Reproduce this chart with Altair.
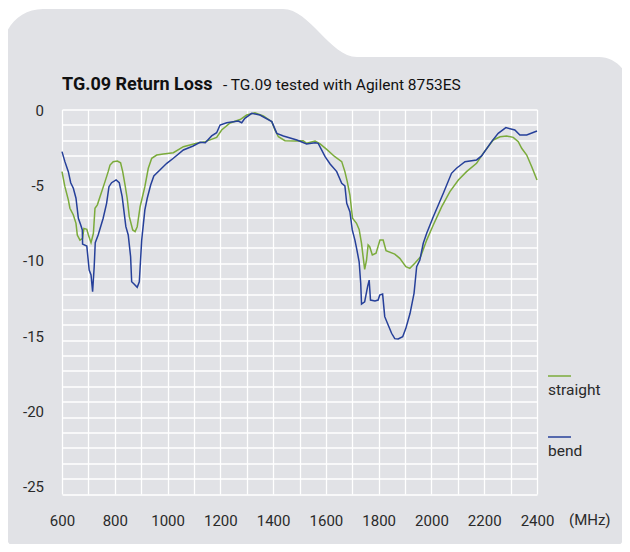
import altair as alt
import pandas as pd

# ---------------- data ----------------
straight_freq = [600, 611, 624, 630, 643, 653, 658, 668, 678, 683, 694, 700, 710, 719, 725, 734, 744,
                 763, 775, 782, 794, 810, 822, 830, 839, 847, 855, 868, 877, 885, 896, 914, 927, 940,
                 959, 984, 1022, 1060, 1110, 1143, 1186, 1205, 1237, 1275, 1300, 1331, 1363, 1395,
                 1407, 1420, 1445, 1483, 1514, 1527, 1559, 1578, 1603, 1634, 1660, 1672, 1681, 1691,
                 1701, 1716, 1726, 1735, 1741, 1747, 1754, 1760, 1766, 1776, 1790, 1805, 1817, 1828,
                 1861, 1880, 1903, 1918, 1937, 1959, 1982, 2007, 2039, 2070, 2102, 2133, 2171, 2196,
                 2234, 2260, 2285, 2310, 2329, 2342, 2361, 2380, 2400]
straight_db = [-4.04, -5.02, -5.88, -6.42, -6.86, -7.40, -8.16, -8.49, -8.38, -7.73, -7.79, -8.16,
               -8.66, -8.05, -6.42, -6.20, -5.67, -4.69, -4.04, -3.61, -3.39, -3.35, -3.46, -4.04,
               -4.91, -5.77, -6.97, -7.83, -7.94, -7.62, -6.32, -5.02, -3.82, -3.17, -2.96, -2.89,
               -2.81, -2.42, -2.20, -2.09, -1.81, -1.33, -0.88, -0.65, -0.36, -0.21, -0.42, -0.79,
               -1.33, -1.77, -2.03, -2.05, -2.03, -2.20, -2.05, -2.24, -2.59, -3.07, -3.39, -4.04,
               -4.69, -5.56, -7.07, -7.40, -7.80, -8.70, -9.57, -10.39, -9.79, -8.81, -8.92, -9.46,
               -9.35, -8.49, -8.49, -9.18, -9.40, -9.68, -10.22, -10.33, -10.00, -9.57, -8.49, -7.51,
               -6.32, -5.34, -4.58, -4.04, -3.50, -2.85, -1.98, -1.77, -1.72, -1.81, -2.09, -2.52,
               -2.96, -3.72, -4.58]

bend_freq = [600, 611, 624, 633, 643, 653, 662, 671, 677, 678, 694, 703, 710, 716, 722, 726, 737, 756,
             769, 778, 788, 805, 817, 828, 842, 851, 860, 864, 873, 885, 893, 902, 914, 923, 936, 948,
             971, 997, 1022, 1060, 1097, 1123, 1143, 1167, 1186, 1199, 1224, 1268, 1281, 1293, 1319,
             1350, 1395, 1414, 1439, 1490, 1527, 1559, 1571, 1597, 1616, 1641, 1660, 1672, 1679, 1691,
             1700, 1710, 1716, 1726, 1732, 1735, 1747, 1758, 1764, 1769, 1786, 1798, 1804, 1815, 1823,
             1836, 1849, 1861, 1874, 1891, 1903, 1919, 1934, 1944, 1956, 1969, 1982, 2007, 2045, 2076,
             2095, 2127, 2171, 2190, 2228, 2253, 2282, 2316, 2335, 2361, 2400]
bend_db = [-2.74, -3.39, -4.04, -4.76, -5.12, -5.77, -7.07, -7.51, -7.83, -8.75, -8.88, -10.44,
           -10.76, -11.85, -10.22, -8.66, -8.16, -7.07, -6.10, -5.02, -4.76, -4.58, -4.76, -5.67,
           -7.62, -8.16, -9.57, -11.20, -11.35, -11.56, -11.20, -8.49, -6.53, -5.77, -4.91, -4.32,
           -3.93, -3.50, -3.17, -2.63, -2.37, -2.13, -2.16, -1.72, -1.51, -1.01, -0.86, -0.75,
           -0.86, -0.57, -0.25, -0.36, -0.79, -1.55, -1.72, -1.98, -2.24, -2.16, -2.20, -3.07,
           -3.54, -4.04, -4.80, -4.97, -6.10, -6.64, -7.83, -8.49, -9.00, -9.90, -11.30, -12.65,
           -12.50, -11.52, -11.09, -12.39, -12.45, -12.39, -12.06, -12.00, -13.47, -14.01, -14.55,
           -14.90, -14.92, -14.77, -14.23, -13.25, -11.95, -10.22, -9.79, -8.70, -8.05, -6.97,
           -5.45, -4.15, -3.82, -3.39, -3.28, -3.02, -2.09, -1.55, -1.18, -1.33, -1.66, -1.66, -1.40]

series_names = ["straight", "bend"]
series_colors = ["#7bab3b", "#26409a"]
x_ticks = list(range(600, 2401, 100))
y_ticks = list(range(-25, 1))
y_label_values = [0, -5, -10, -15, -20, -25]
title_main = "TG.09 Return Loss"
title_sub = "- TG.09 tested with Agilent 8753ES"
unit_label = "(MHz)"

df = pd.concat([
    pd.DataFrame({"freq": straight_freq, "db": straight_db, "series": "straight"}),
    pd.DataFrame({"freq": bend_freq, "db": bend_db, "series": "bend"}),
], ignore_index=True)
ylab_df = pd.DataFrame({"v": y_label_values, "t": [str(v) for v in y_label_values]})

# ---------------- layout ----------------
W, H = 475, 384.5
OX, OY = 62, 109.5          # plot origin on the page
FONT = "Roboto"
TXT = "#2a2a2a"
BG = "#e1e2e6"

x_enc = alt.X(
    "freq:Q",
    scale=alt.Scale(domain=[600, 2400], nice=False, zero=False),
    axis=alt.Axis(values=x_ticks, labelExpr="datum.value % 200 == 0 ? datum.value + '' : ''",
                  title=None, grid=True, gridColor="white", gridWidth=1.3, gridOpacity=1,
                  ticks=False, tickSize=0, domain=False, labelPadding=19, labelFontSize=15,
                  labelFont=FONT, labelColor=TXT, labelFlush=False, labelOverlap=False),
)
y_enc = alt.Y(
    "db:Q",
    scale=alt.Scale(domain=[-25, 0], nice=False, zero=False),
    axis=alt.Axis(values=y_ticks, labels=False, title=None, grid=True, gridColor="white",
                  gridWidth=1.3, gridOpacity=1, ticks=False, tickSize=0, domain=False),
)
color_enc = alt.Color("series:N", scale=alt.Scale(domain=series_names, range=series_colors),
                      legend=None)

lines = alt.Chart(df).mark_line(strokeWidth=1.5).encode(x=x_enc, y=y_enc, color=color_enc,
                                                        detail="series:N")

# y tick labels: in the reference they sit on a slightly tighter scale than the grid
ylabels = alt.Chart(ylab_df).mark_text(align="right", baseline="middle", font=FONT, fontSize=15,
                                       color=TXT).encode(
    x=alt.value(-18),
    y=alt.Y("v:Q", scale=alt.Scale(domain=[-25, 0], range=[487 - OY, 111 - OY], nice=False,
                                   zero=False), axis=None),
    text="t:N",
)

one = alt.Data(values=[{"k": 0}])


def P(x, y):
    return f"{x - OX:.1f},{y - OY:.1f}"


# white cut-out around the grey card (outer rect clockwise, card counter-clockwise)
outer = f"M {P(-30,-30)} L {P(670,-30)} L {P(670,620)} L {P(-30,620)} Z"
card = ("M " + P(3, 50) + " L " + P(3, 525) +
        " C " + P(3, 542) + " " + P(16, 555) + " " + P(33, 555) +
        " L " + P(596, 555) +
        " C " + P(614, 555) + " " + P(629, 540) + " " + P(629, 522) +
        " L " + P(629, 87) +
        " C " + P(629, 71) + " " + P(615, 57) + " " + P(599, 57) +
        " L " + P(357, 57) +
        " C " + P(330, 57) + " " + P(310, 9) + " " + P(283, 9) +
        " L " + P(43, 9) +
        " C " + P(20, 9) + " " + P(3, 27) + " " + P(3, 50) + " Z")
cutout = alt.Chart(one).mark_point(shape=outer + " " + card, size=4, filled=True, opacity=1,
                                   strokeWidth=0, color="white").encode(
    x=alt.value(0), y=alt.value(0))

title1 = alt.Chart(one).mark_text(text=title_main, align="left", baseline="alphabetic", font=FONT,
                                  fontSize=18, fontWeight="bold", color="#111").encode(
    x=alt.value(0), y=alt.value(90 - OY))
title2 = alt.Chart(one).mark_text(text=title_sub, align="left", baseline="alphabetic", font=FONT,
                                  fontSize=15.5, color="#111").encode(
    x=alt.value(223 - OX), y=alt.value(90 - OY))
unit = alt.Chart(one).mark_text(text=unit_label, align="left", baseline="alphabetic", font=FONT,
                                fontSize=15, color=TXT).encode(
    x=alt.value(569 - OX), y=alt.value(525 - OY))

legend_layers = []
legend_line_y = [376, 437]
for name, col, ly in zip(series_names, series_colors, legend_line_y):
    legend_layers.append(alt.Chart(one).mark_rule(color=col, strokeWidth=1.5).encode(
        x=alt.value(548 - OX), x2=alt.value(571 - OX), y=alt.value(ly - OY)))
    legend_layers.append(alt.Chart(one).mark_text(text=name, align="left", baseline="alphabetic",
                                                  font=FONT, fontSize=15.5, color=TXT).encode(
        x=alt.value(548 - OX), y=alt.value(ly + 19 - OY)))

chart = alt.layer(cutout, lines, ylabels, title1, title2, unit, *legend_layers).resolve_scale(
    y="independent"
).properties(
    width=W, height=H, autosize="none",
    padding={"left": OX - 8, "top": OY - 8, "right": 622 - (OX + W), "bottom": 544 - (OY + H)},
    background=BG,
).configure_view(strokeWidth=0)

chart.save("out.html", embed_options={"renderer": "svg", "actions": False})
